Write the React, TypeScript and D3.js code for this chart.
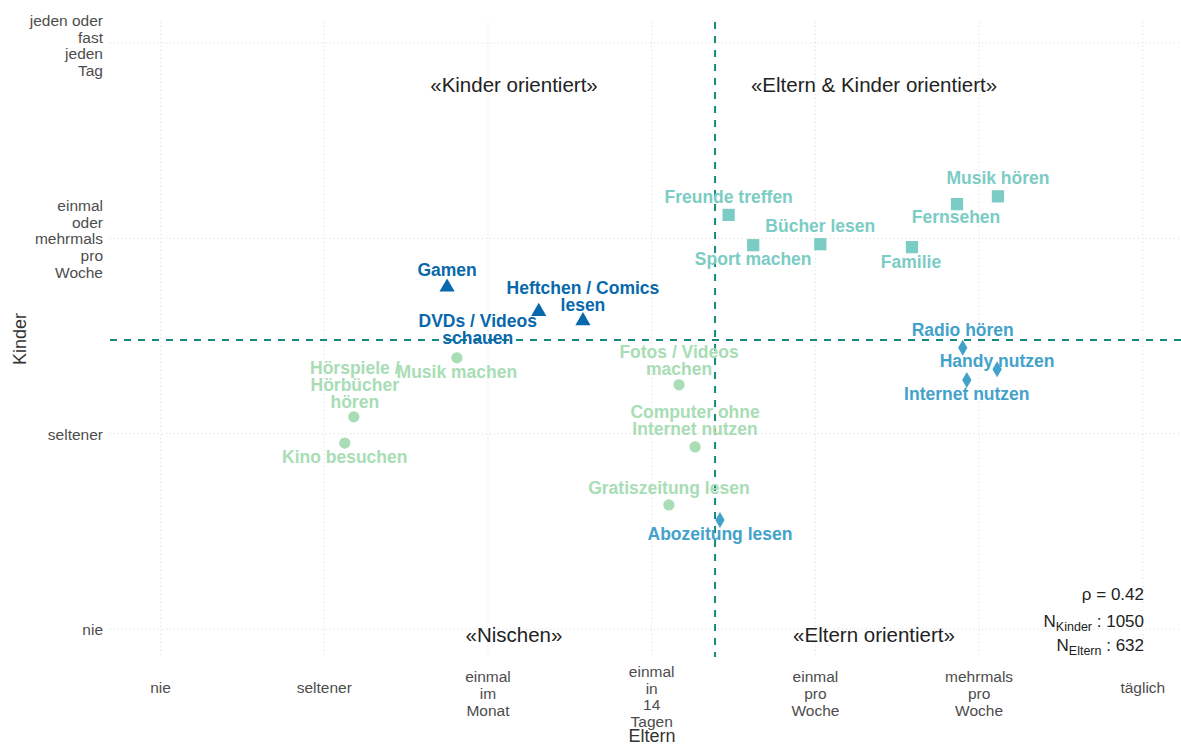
import React from "react";
import * as d3 from "d3";

// ---- data ----
const activities = [
  "Freunde treffen", "Bücher lesen", "Sport machen", "Familie", "Fernsehen", "Musik hören",
  "Gamen", "DVDs / Videos schauen", "Heftchen / Comics lesen",
  "Musik machen", "Hörspiele / Hörbücher hören", "Kino besuchen", "Fotos / Videos machen",
  "Computer ohne Internet nutzen", "Gratiszeitung lesen",
  "Radio hören", "Handy nutzen", "Internet nutzen", "Abozeitung lesen",
];
const groups = [
  "both", "both", "both", "both", "both", "both",
  "kinder", "kinder", "kinder",
  "nischen", "nischen", "nischen", "nischen", "nischen", "nischen",
  "eltern", "eltern", "eltern", "eltern",
];
const elternValues = [3.47, 4.03, 3.62, 4.59, 4.865, 5.115, 1.75, 2.31, 2.58, 1.81, 1.18, 1.125, 3.167, 3.265, 3.105, 4.9, 5.11, 4.925, 3.417];
const kinderValues = [2.12, 1.97, 1.965, 1.955, 2.175, 2.215, 1.75, 1.625, 1.578, 1.388, 1.086, 0.952, 1.25, 0.932, 0.635, 1.44, 1.33, 1.275, 0.558];

const xTickLabels = ["nie", "seltener", "einmal im Monat", "einmal in 14 Tagen", "einmal pro Woche", "mehrmals pro Woche", "täglich"];
const yTickLabels = ["nie", "seltener", "einmal oder mehrmals pro Woche", "jeden oder fast jeden Tag"];
const elternThreshold = 3.387;
const kinderThreshold = 1.48;
const rho = 0.42;
const nKinder = 1050;
const nEltern = 632;

// ---- layout (label placement, not data) ----
const labelLines: Record<string, string[]> = {
  "DVDs / Videos schauen": ["DVDs / Videos", "schauen"],
  "Heftchen / Comics lesen": ["Heftchen / Comics", "lesen"],
  "Hörspiele / Hörbücher hören": ["Hörspiele /", "Hörbücher", "hören"],
  "Fotos / Videos machen": ["Fotos / Videos", "machen"],
  "Computer ohne Internet nutzen": ["Computer ohne", "Internet nutzen"],
};
const labelOffset: Record<string, [number, number]> = {
  "Freunde treffen": [0, -18],
  "Bücher lesen": [0, -18],
  "Sport machen": [0, 14],
  "Familie": [-1, 15],
  "Fernsehen": [-1, 13],
  "Musik hören": [0, -18],
  "Gamen": [0, -17],
  "DVDs / Videos schauen": [-61, 17.5],
  "Heftchen / Comics lesen": [0, -24.5],
  "Musik machen": [0, 14],
  "Hörspiele / Hörbücher hören": [1, -32],
  "Kino besuchen": [0, 14],
  "Fotos / Videos machen": [0, -24.5],
  "Computer ohne Internet nutzen": [0, -26.5],
  "Gratiszeitung lesen": [0, -17],
  "Radio hören": [0, -18],
  "Handy nutzen": [0, -8],
  "Internet nutzen": [0, 14],
  "Abozeitung lesen": [0, 14],
};

const colors: Record<string, string> = {
  both: "#7bccc4",
  kinder: "#0868ac",
  nischen: "#a8ddb5",
  eltern: "#43a2ca",
};
const symbolFor: Record<string, any> = {
  both: d3.symbolSquare,
  kinder: d3.symbolTriangle,
  nischen: d3.symbolCircle,
  eltern: d3.symbolDiamond,
};
const symbolSize: Record<string, number> = { both: 150, kinder: 100, nischen: 100, eltern: 75 };

const W = 1181, H = 744;
const panel = { left: 110, right: 1181, top: 22, bottom: 657 };
const FONT = "'Liberation Sans', Arial, Helvetica, sans-serif";

export default function App() {
  const x = d3.scaleLinear().domain([0, 6]).range([160.6, 1142.8]);
  const y = d3.scaleLinear().domain([0, 3]).range([629, 43]);
  const lh = 16.9;
  const tlh = 16.8;

  const points = activities.map((a, i) => ({
    name: a, group: groups[i], ex: elternValues[i], ky: kinderValues[i],
  }));

  return (
    <div style={{ position: "fixed", left: 0, top: 0 }}>
      <svg width={W} height={H} style={{ display: "block", fontFamily: FONT }}>
        <rect width={W} height={H} fill="#fff" />
        {/* grid */}
        {xTickLabels.map((_, i) => (
          <line key={"gx" + i} x1={x(i)} x2={x(i)} y1={panel.top} y2={panel.bottom}
            stroke="#d9d9d9" strokeWidth={1} strokeDasharray="1,3" />
        ))}
        {yTickLabels.map((_, i) => (
          <line key={"gy" + i} x1={panel.left} x2={panel.right} y1={y(i)} y2={y(i)}
            stroke="#d9d9d9" strokeWidth={1} strokeDasharray="1,3" />
        ))}
        {/* thresholds */}
        <line x1={x(elternThreshold)} x2={x(elternThreshold)} y1={panel.top} y2={panel.bottom}
          stroke="#138a7c" strokeWidth={2} strokeDasharray="7,7" />
        <line x1={panel.left} x2={panel.right} y1={y(kinderThreshold)} y2={y(kinderThreshold)}
          stroke="#138a7c" strokeWidth={2} strokeDasharray="7,7" />

        {/* quadrant labels */}
        <g fontSize={20.5} fill="#222" textAnchor="middle" dominantBaseline="central">
          <text x={514} y={84}>«Kinder orientiert»</text>
          <text x={874} y={84}>«Eltern &amp; Kinder orientiert»</text>
          <text x={514} y={634}>«Nischen»</text>
          <text x={874} y={634}>«Eltern orientiert»</text>
        </g>

        {/* points */}
        {points.map((p) => (
          <path key={"p" + p.name}
            d={d3.symbol().type(symbolFor[p.group]).size(symbolSize[p.group])() || ""}
            transform={`translate(${x(p.ex)},${y(p.ky)})`}
            fill={colors[p.group]} />
        ))}
        {/* labels */}
        {points.map((p) => {
          const lines = labelLines[p.name] || [p.name];
          const [dx, dy] = labelOffset[p.name] || [0, -16];
          const cx = x(p.ex) + dx;
          const cy = y(p.ky) + dy;
          const y0 = cy - ((lines.length - 1) * lh) / 2;
          return (
            <text key={"l" + p.name} x={cx} textAnchor="middle" dominantBaseline="central"
              fontSize={17.5} fontWeight="bold" fill={colors[p.group]}>
              {lines.map((ln, j) => (
                <tspan key={j} x={cx} y={y0 + j * lh}>{ln}</tspan>
              ))}
            </text>
          );
        })}

        {/* y ticks */}
        {yTickLabels.map((lab, i) => {
          const words = lab === "jeden oder fast jeden Tag" ? ["jeden oder", "fast", "jeden", "Tag"] : lab.split(" ");
          const cy = y(i) + (lab === "jeden oder fast jeden Tag" ? 2 : 0);
          const y0 = cy - ((words.length - 1) * tlh) / 2;
          return (
            <text key={"yt" + i} textAnchor="end" dominantBaseline="central" fontSize={15.5} fill="#4d4d4d">
              {words.map((w, j) => (
                <tspan key={j} x={103} y={y0 + j * tlh}>{w}</tspan>
              ))}
            </text>
          );
        })}
        {/* x ticks */}
        {xTickLabels.map((lab, i) => {
          const words = lab.split(" ");
          const n = words.length;
          const cy = 687 + (n - 1) * 3;
          const y0 = cy - ((n - 1) * tlh) / 2;
          return (
            <text key={"xt" + i} textAnchor="middle" dominantBaseline="central" fontSize={15.5} fill="#4d4d4d">
              {words.map((w, j) => (
                <tspan key={j} x={x(i)} y={y0 + j * tlh}>{w}</tspan>
              ))}
            </text>
          );
        })}

        {/* axis titles */}
        <text x={652} y={736} textAnchor="middle" dominantBaseline="central" fontSize={18} fill="#333">Eltern</text>
        <text transform="translate(20,339) rotate(-90)" textAnchor="middle" dominantBaseline="central" fontSize={18} fill="#333">Kinder</text>

        {/* annotations */}
        <g fontSize={17} fill="#222" textAnchor="end">
          <text x={1144} y={600}>ρ = {rho.toFixed(2)}</text>
          <text x={1144} y={627}>N<tspan fontSize={12.5} dy={4}>Kinder</tspan><tspan dy={-4}> : {nKinder}</tspan></text>
          <text x={1144} y={651}>N<tspan fontSize={12.5} dy={4}>Eltern</tspan><tspan dy={-4}> : {nEltern}</tspan></text>
        </g>
      </svg>
    </div>
  );
}
